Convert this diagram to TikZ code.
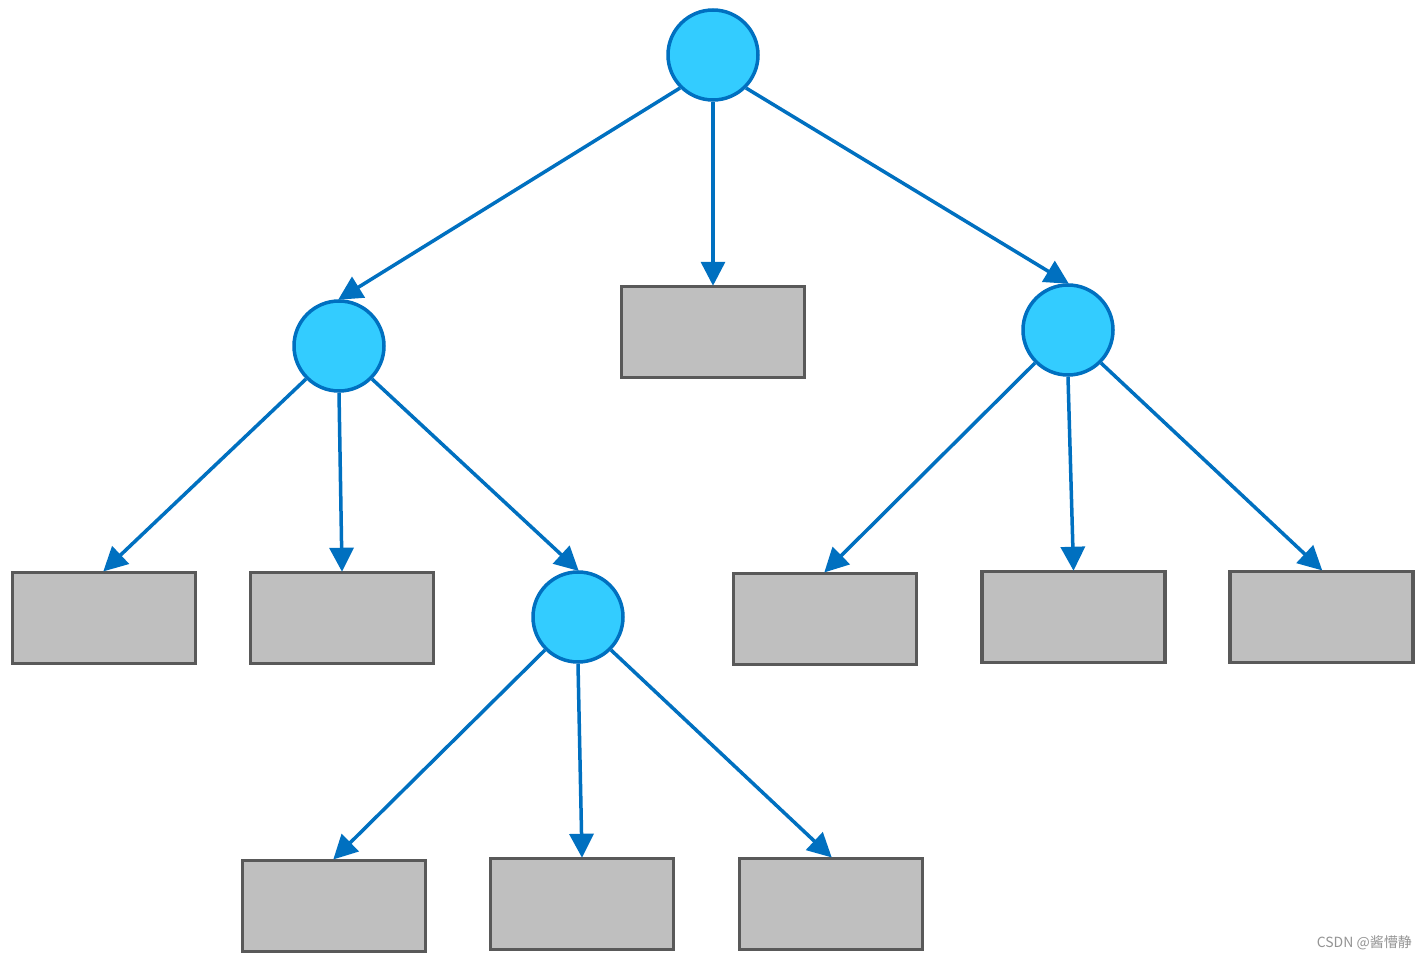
\documentclass[tikz,border=0pt]{standalone}
\usepackage{fontspec}
\newfontfamily\cjk{Noto Sans CJK SC}
\usetikzlibrary{arrows.meta}
\definecolor{lineblue}{HTML}{0070C0}
\definecolor{circfill}{HTML}{33CCFF}
\definecolor{boxfill}{HTML}{BFBFBF}
\definecolor{boxline}{HTML}{595959}
\begin{document}
\begin{tikzpicture}[x=1pt,y=-1pt,
  inner/.style={circle,draw=lineblue,fill=circfill,line width=3.5pt,minimum size=90pt,inner sep=0pt},
  leaf/.style={rectangle,draw=boxline,fill=boxfill,line width=3.5pt,minimum width=183pt,minimum height=91pt,inner sep=0pt},
  edge/.style={draw=lineblue,line width=3.5pt,-{Triangle[length=24pt,width=24pt]},shorten >=-1pt}]
\useasboundingbox[fill=white] (0,0) rectangle (1427,960);
% inner nodes
\node[inner] (r) at (713,55) {};
\node[inner] (a) at (339,346) {};
\node[inner] (b) at (1068,330) {};
\node[inner] (c) at (578,617) {};
% leaves
\node[leaf] (m)  at (713,332) {};
\node[leaf] (a1) at (104,618) {};
\node[leaf] (a2) at (342,618) {};
\node[leaf] (b1) at (825,619) {};
\node[leaf] (b2) at (1073.5,617) {};
\node[leaf] (b3) at (1321.5,617) {};
\node[leaf] (c1) at (334,906) {};
\node[leaf] (c2) at (582,904) {};
\node[leaf] (c3) at (831,904) {};
% edges
\draw[edge] (r.south west) -- (a.north);
\draw[edge] (r.south) -- (m.north);
\draw[edge] (r.south east) -- (b.north);
\draw[edge] (a.south west) -- (a1.north);
\draw[edge] (a.south) -- (a2.north);
\draw[edge] (a.south east) -- (c.north);
\draw[edge] (b.south west) -- (b1.north);
\draw[edge] (b.south) -- (b2.north);
\draw[edge] (b.south east) -- (b3.north);
\draw[edge] (c.south west) -- (c1.north);
\draw[edge] (c.south) -- (c2.north);
\draw[edge] (c.south east) -- (c3.north);
% watermark
\node[anchor=east,text=black!42,font=\fontsize{14pt}{16pt}\selectfont\cjk,inner sep=0pt] (wm) at (1412,943) {CSDN @酱懵静};
\end{tikzpicture}
\end{document}
